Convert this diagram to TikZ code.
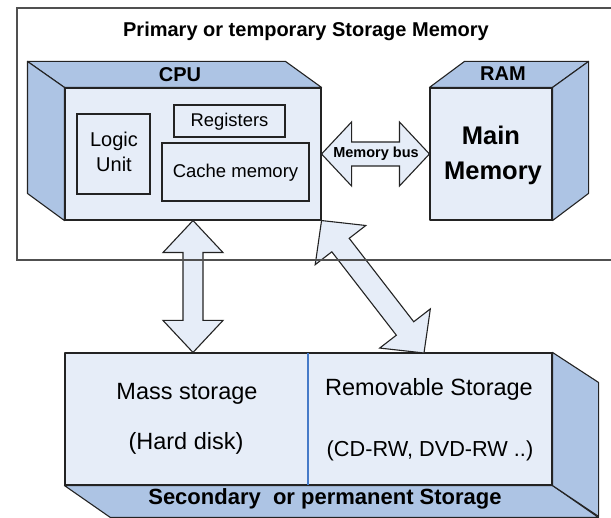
\documentclass[tikz,border=0pt]{standalone}
\usepackage{fontspec}
\setmainfont{Liberation Sans}
\usetikzlibrary{calc}
\definecolor{facefront}{RGB}{230,237,248}
\definecolor{faceside}{RGB}{173,196,228}
\definecolor{divblue}{RGB}{70,122,200}
\definecolor{edgecol}{RGB}{35,35,35}
\definecolor{outercol}{RGB}{80,80,80}
\newcommand\blockarrow[5]{%
  \draw[barrow] (#1)
   -- ($(#1)!#3!(#2)!#4!90:(#2)$)
   -- ($(#1)!#3!(#2)!#5!90:(#2)$)
   -- ($(#2)!#3!(#1)!#5!-90:(#1)$)
   -- ($(#2)!#3!(#1)!#4!-90:(#1)$)
   -- (#2)
   -- ($(#2)!#3!(#1)!#4!90:(#1)$)
   -- ($(#2)!#3!(#1)!#5!90:(#1)$)
   -- ($(#1)!#3!(#2)!#5!-90:(#2)$)
   -- ($(#1)!#3!(#2)!#4!-90:(#2)$)
   -- cycle;}
\begin{document}
\begin{tikzpicture}[x=1pt,y=-1pt,
  face/.style={draw=edgecol, line width=1.1pt, line join=round},
  frontface/.style={face, fill=facefront, inner sep=0pt},
  sideface/.style={face, fill=faceside},
  inbox/.style={draw=edgecol, line width=1.1pt, fill=facefront, inner sep=0pt},
  barrow/.style={draw=edgecol, line width=1.1pt, fill=facefront, line join=miter},
  lbl/.style={anchor=base, inner sep=0pt, text=black},
  outerline/.style={draw=outercol, line width=1.4pt},
]
\useasboundingbox (0,0) rectangle (611,518);
\clip (0,0) rectangle (611,518);

% CPU cuboid
\node[frontface, minimum width=256pt, minimum height=132pt] (cpu) at (193,154) {};
\draw[sideface] (cpu.north west) -- ++(-37,-26) -- ($(cpu.north east)+(-36,-26)$) -- (cpu.north east) -- cycle;
\draw[sideface] (cpu.north west) -- ++(-37,-26) -- ++(0,132) -- (cpu.south west) -- cycle;

% inner CPU boxes
\node[inbox, minimum width=73pt, minimum height=80pt] (logic) at (113.5,154) {};
\node[inbox, minimum width=111pt, minimum height=32pt] (reg) at (229.5,121) {};
\node[inbox, minimum width=147pt, minimum height=58pt] (cache) at (235.5,172) {};

% RAM cuboid
\node[frontface, minimum width=122pt, minimum height=132pt] (ram) at (491,154) {};
\draw[sideface] (ram.north west) -- ++(35,-26) -- ($(ram.north east)+(36,-26)$) -- (ram.north east) -- cycle;
\draw[sideface] (ram.north east) -- ++(36,-26) -- ++(0,132) -- (ram.south east) -- cycle;

% Secondary storage cuboid
\node[frontface, minimum width=487pt, minimum height=132pt] (stor) at (308.5,419) {};
\draw[sideface] (stor.south west) -- ++(46,32) -- ($(stor.south east)+(46,32)$) -- (stor.south east) -- cycle;
\draw[sideface] (stor.north east) -- ++(46,30) -- ++(0,134) -- (stor.south east) -- cycle;
\coordinate (divtop) at (308,353);
\coordinate (divbot) at (308,485);
\draw[divblue, line width=2.2pt] (divtop) -- (divbot);

% block arrows
\coordinate (remtop) at (424,353);
\blockarrow{cpu.east}{ram.west}{30pt}{32pt}{12pt}
\blockarrow{cpu.south}{cpu.south |- stor.north}{32pt}{30pt}{10pt}
\blockarrow{cpu.south east}{remtop}{31pt}{32pt}{11pt}

% outer frame (primary storage)
\draw[outerline] (640,8) -- (17,8) -- (17,260) -- (640,260);

% texts
\node[lbl, font=\bfseries\fontsize{20}{24}\selectfont] (title) at (306,37) {Primary or temporary Storage Memory};
\node[lbl, font=\bfseries\fontsize{20}{24}\selectfont] (cpulbl) at (180,82) {CPU};
\node[lbl, font=\bfseries\fontsize{20}{24}\selectfont] (ramlbl) at (503,81) {RAM};
\node[lbl, font=\fontsize{20}{24}\selectfont] (logict1) at (114,147) {Logic};
\node[lbl, font=\fontsize{20}{24}\selectfont] (logict2) at (114,172) {Unit};
\node[lbl, font=\fontsize{18.4}{22}\selectfont] (regt) at (229.5,127) {Registers};
\node[lbl, font=\fontsize{18.5}{22}\selectfont] (cachet) at (235.5,178) {Cache memory};
\node[lbl, font=\bfseries\fontsize{14.5}{17}\selectfont] (bust) at (376,158) {Memory bus};
\node[lbl, font=\bfseries\fontsize{25.5}{30}\selectfont] (mmt1) at (491,145) {Main};
\node[lbl, font=\bfseries\fontsize{25.5}{30}\selectfont] (mmt2) at (493,180) {Memory};
\node[lbl, font=\fontsize{23.5}{28}\selectfont] (masst1) at (187,400) {Mass storage};
\node[lbl, font=\fontsize{23.5}{28}\selectfont] (masst2) at (186,450) {(Hard disk)};
\node[lbl, font=\fontsize{23.5}{28}\selectfont] (remt1) at (429,396) {Removable Storage};
\node[lbl, font=\fontsize{21.7}{26}\selectfont] (remt2) at (430,457) {(CD-RW, DVD-RW ..)};
\node[lbl, font=\bfseries\fontsize{22}{26}\selectfont] (sect) at (325,505) {Secondary~ or permanent Storage};
\end{tikzpicture}
\end{document}
